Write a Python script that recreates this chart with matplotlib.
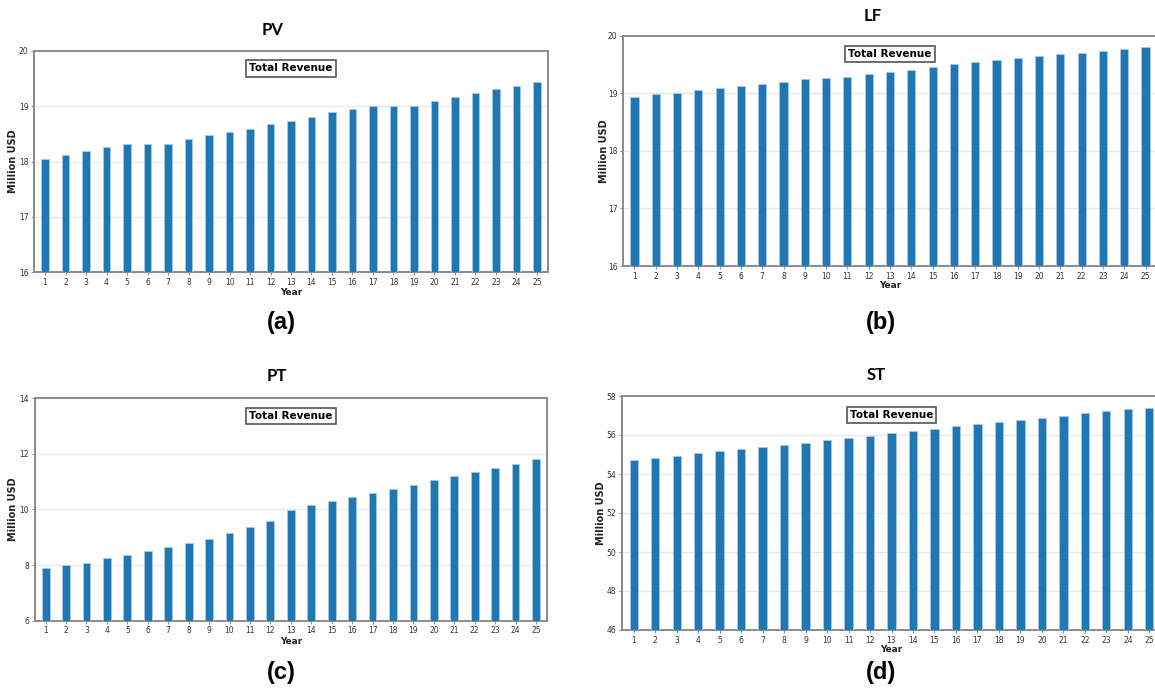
import numpy as np
import matplotlib.pyplot as plt

years = np.arange(1, 26)

pv_revenue = [18.05, 18.12, 18.19, 18.26, 18.32, 18.32, 18.32, 18.40, 18.47, 18.54,
              18.59, 18.67, 18.74, 18.81, 18.89, 18.95, 19.01, 19.01, 19.01, 19.09,
              19.16, 19.23, 19.31, 19.37, 19.43]
lf_revenue = [18.94, 18.98, 19.01, 19.05, 19.09, 19.12, 19.16, 19.20, 19.24, 19.26,
              19.29, 19.33, 19.37, 19.41, 19.45, 19.50, 19.54, 19.57, 19.61, 19.65,
              19.68, 19.70, 19.74, 19.77, 19.81]
pt_revenue = [7.88, 8.00, 8.08, 8.24, 8.35, 8.49, 8.65, 8.79, 8.95, 9.14,
              9.35, 9.59, 9.99, 10.14, 10.29, 10.44, 10.59, 10.74, 10.89, 11.05,
              11.19, 11.34, 11.50, 11.64, 11.80]
st_revenue = [54.70, 54.82, 54.94, 55.06, 55.16, 55.28, 55.38, 55.49, 55.61, 55.73,
              55.85, 55.97, 56.10, 56.22, 56.33, 56.45, 56.58, 56.69, 56.77, 56.87,
              56.99, 57.11, 57.22, 57.33, 57.39]

titles = ['PV', 'LF', 'PT', 'ST']
letters = ['(a)', '(b)', '(c)', '(d)']
ylims = [(16, 20), (16, 20), (6, 14), (46, 58)]
ysteps = [1, 1, 2, 2]

W, H = 1155, 691
fig = plt.figure(figsize=(W / 100, H / 100), dpi=100)


def fx(x):
    return x / W


def fy(y):
    return 1 - y / H


# axes boxes in pixels: left, right, top, bottom
boxes = [(34, 548, 50.7, 272.3), (623, 1157, 35.7, 266),
         (34.6, 547, 398, 620.7), (622, 1161, 396, 630)]
# title, year label, ylabel x, panel letter (pixel positions)
title_pos = [(273, 30), (873, 16), (277, 376), (876, 375)]
year_y = [292, 286, 641, 650]
ylab_x = [13, 604, 13, 601]
letter_pos = [(281, 323), (881, 322), (281, 672), (881, 673)]

data = [pv_revenue, lf_revenue, pt_revenue, st_revenue]

for i in range(4):
    l, r, t, b = boxes[i]
    ax = fig.add_axes([fx(l), fy(b), fx(r - l), (b - t) / H])
    ax.bar(years, data[i], width=0.38, color='#1f77b4', edgecolor='#a9cbe6',
           linewidth=0.6, zorder=3)
    lo, hi = ylims[i]
    ax.set_ylim(lo, hi)
    ax.set_yticks(np.arange(lo, hi + 0.01, ysteps[i]))
    ax.set_xlim(0.46, 25.54)
    ax.set_xticks(years)
    ax.grid(axis='y', color='#e8e8e8', linewidth=1.0, zorder=0)
    ax.tick_params(labelsize=5.5, labelcolor='#333333', color='#777777',
                   length=2.5, width=0.6, pad=1.5)
    for s in ax.spines.values():
        s.set_color('#8a8a8a')
        s.set_linewidth(1.4)

    ax.text(0.5, 0.92, 'Total Revenue', transform=ax.transAxes, ha='center',
            va='center', fontsize=7.5, fontweight='bold', zorder=5,
            bbox=dict(boxstyle='square,pad=0.3', facecolor='white',
                      edgecolor='#555555', linewidth=1.2))

    fig.text(fx(title_pos[i][0]), fy(title_pos[i][1]), titles[i], ha='center',
             va='center', fontsize=12, fontweight='bold', family='Lato')
    fig.text(fx((l + r) / 2), fy(year_y[i]), 'Year', ha='center', va='center',
             fontsize=6.5, fontweight='bold', color='#222222')
    fig.text(fx(ylab_x[i]), fy((t + b) / 2), 'Million USD', ha='center',
             va='center', rotation=90, fontsize=7, fontweight='bold',
             color='#222222')
    fig.text(fx(letter_pos[i][0]), fy(letter_pos[i][1]), letters[i],
             ha='center', va='center', fontsize=17, fontweight='bold',
             family='Liberation Sans')

fig.savefig('out.png', dpi=100)
